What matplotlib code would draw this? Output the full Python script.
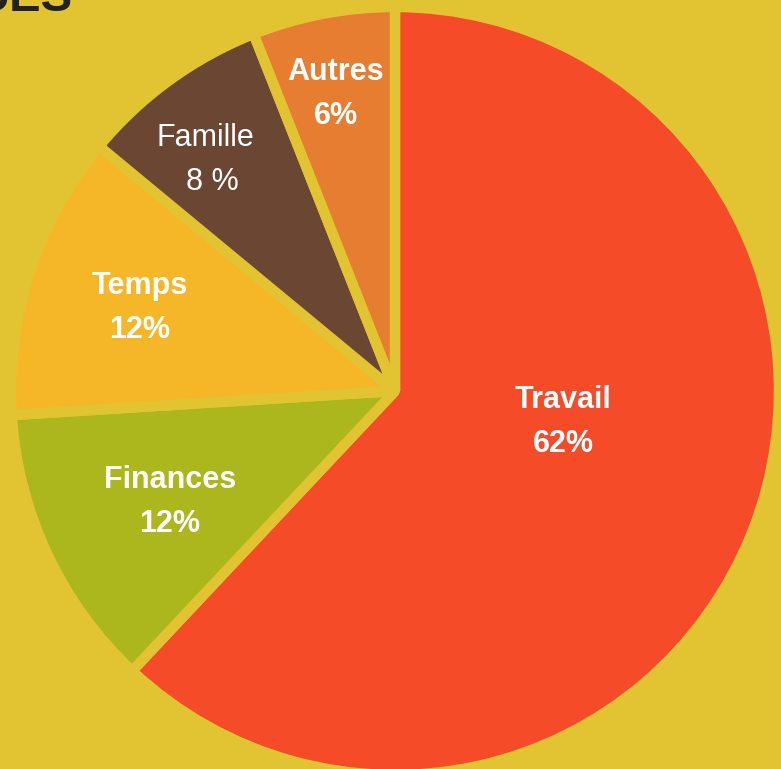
import matplotlib.pyplot as plt

# data
labels = ["Travail", "Finances", "Temps", "Famille", "Autres"]
values = [62, 12, 12, 8, 6]
pct_text = ["62%", "12%", "12%", "8 %", "6%"]
colors = ["#F54B28", "#ABB71C", "#F5B728", "#6B4733", "#E67D30"]
bold = [True, True, True, False, True]

bg = "#E2C433"

fig = plt.figure(figsize=(7.81, 7.69), dpi=100)
fig.patch.set_facecolor(bg)
ax = fig.add_axes([0, 0, 1, 1])
ax.set_facecolor(bg)

cx, cy, r = 395, 769 - 391, 384
wedges, _ = ax.pie(values, colors=colors, startangle=90, counterclock=False,
                   center=(cx, cy), radius=r, frame=True,
                   wedgeprops=dict(edgecolor=bg, linewidth=7.5, joinstyle="bevel"))
ax.set_xlim(0, 781)
ax.set_ylim(0, 769)
ax.axis("off")

# label positions (pixel coords from top-left)
lab_pos = [(563, 400), (170, 480), (140, 286), (205, 138), (336, 72)]
for name, pct, (x, y), b in zip(labels, pct_text, lab_pos, bold):
    w = "bold" if b else "normal"
    ax.text(x, 769 - y, name, ha="center", va="center", color="white",
            fontsize=22, fontweight=w, family="Liberation Sans")
    ax.text(x + (7 if not b else 0), 769 - y - 44, pct, ha="center", va="center",
            color="white", fontsize=22, fontweight=w, family="Liberation Sans")

# cut-off title at top left (only its bottom shows in the reference)
fig.text(72 / 781, 1 - 11 / 769, "UES", ha="right", va="baseline",
         fontsize=34, fontweight="bold", color="#222222", family="Liberation Sans")

fig.savefig("out.png", dpi=100, facecolor=bg)
